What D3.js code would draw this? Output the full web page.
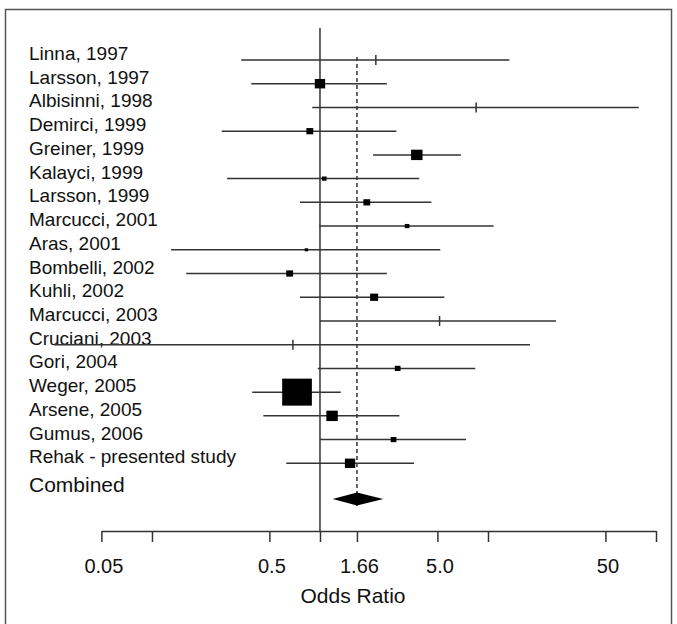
<!DOCTYPE html>
<html lang="en">
<head>
    <meta charset="UTF-8">
    <title>Forest plot - Odds Ratio</title>
    <script src="https://cdnjs.cloudflare.com/ajax/libs/d3/7.8.5/d3.min.js"></script>
    <style>
        * { margin: 0; padding: 0; box-sizing: border-box; }
        body { background: #fff; font-family: Arial, 'Liberation Sans', Helvetica, sans-serif; }
        svg text { fill: #111; }
    </style>
</head>
<body>
    <div id="chart"></div>
    <script>
        // Studies, top to bottom
        const studies = [
            "Linna, 1997", "Larsson, 1997", "Albisinni, 1998", "Demirci, 1999",
            "Greiner, 1999", "Kalayci, 1999", "Larsson, 1999", "Marcucci, 2001",
            "Aras, 2001", "Bombelli, 2002", "Kuhli, 2002", "Marcucci, 2003",
            "Cruciani, 2003", "Gori, 2004", "Weger, 2005", "Arsene, 2005",
            "Gumus, 2006", "Rehak - presented study"
        ];
        const oddsRatio = [2.15, 1.0, 8.5, 0.87, 3.77, 1.06, 1.9, 3.3, 0.83, 0.66, 2.1, 5.15, 0.69, 2.9, 0.73, 1.18, 2.74, 1.51];
        const lowerCI   = [0.34, 0.39, 0.9, 0.26, 2.07, 0.28, 0.76, 0.99, 0.13, 0.16, 0.76, 1.0, 0.026, 0.97, 0.395, 0.46, 1.0, 0.63];
        const upperCI   = [13.4, 2.5, 79, 2.85, 6.9, 3.9, 4.6, 10.8, 5.2, 2.5, 5.5, 25.4, 17.8, 8.4, 1.33, 2.97, 7.4, 3.63];
        // relative study weights (box area); 0 = drawn as a plain tick
        const weights   = [0, 7.5, 0, 3.3, 9.2, 1.5, 3.3, 1.5, 0.8, 3.3, 4.5, 0, 0, 2.3, 62, 9.2, 2.3, 7.5];

        const combinedLabel = "Combined";
        const combined = { or: 1.66, lo: 1.19, hi: 2.38 };

        const tickValues = [0.05, 0.1, 0.5, 1, 1.66, 5, 10, 50, 100];
        const tickLabels = ["0.05", "", "0.5", "", "1.66", "5.0", "", "50", ""];
        const axisTitle = "Odds Ratio";

        const width = 677, height = 624;
        const svg = d3.select('#chart').append('svg')
            .attr('width', width)
            .attr('height', height);

        // frame
        svg.append('rect')
            .attr('x', 5.5).attr('y', 9.5)
            .attr('width', 666).attr('height', 700)
            .attr('fill', '#fff')
            .attr('stroke', '#555')
            .attr('stroke-width', 1.5);

        const x = d3.scaleLog().domain([0.05, 100]).range([101.4, 656]);
        const y = d3.scaleLinear().domain([0, studies.length - 1]).range([60, 463.3]);
        const box = d3.scaleSqrt().domain([0, d3.max(weights)]).range([0, 27]);
        const axisY = 531;
        const combinedY = y(18.5);

        const lineColor = '#333';

        // line of no effect (OR = 1)
        svg.append('line')
            .attr('x1', x(1)).attr('x2', x(1))
            .attr('y1', 28).attr('y2', axisY)
            .attr('stroke', lineColor).attr('stroke-width', 1.5);

        // combined estimate, dashed
        svg.append('line')
            .attr('x1', x(combined.or)).attr('x2', x(combined.or))
            .attr('y1', 57).attr('y2', 506)
            .attr('stroke', lineColor).attr('stroke-width', 1.5)
            .attr('stroke-dasharray', '4,3');

        // study labels
        svg.selectAll('.study-label')
            .data(studies)
            .enter()
            .append('text')
            .attr('class', 'study-label')
            .attr('x', 29)
            .attr('y', (d, i) => y(i))
            .attr('font-size', 19)
            .text(d => d);

        // confidence intervals
        svg.selectAll('.ci')
            .data(studies)
            .enter()
            .append('line')
            .attr('class', 'ci')
            .attr('x1', (d, i) => x(lowerCI[i]))
            .attr('x2', (d, i) => x(upperCI[i]))
            .attr('y1', (d, i) => y(i))
            .attr('y2', (d, i) => y(i))
            .attr('stroke', lineColor)
            .attr('stroke-width', 1.5);

        // point estimates: boxes sized by weight
        svg.selectAll('.est')
            .data(studies.filter((d, i) => weights[i] > 0).map(d => studies.indexOf(d)))
            .enter()
            .append('rect')
            .attr('class', 'est')
            .attr('x', i => x(oddsRatio[i]) - box(weights[i]) * 0.55)
            .attr('y', i => y(i) - box(weights[i]) / 2)
            .attr('width', i => box(weights[i]) * 1.1)
            .attr('height', i => box(weights[i]))
            .attr('fill', '#000');

        // zero-weight studies: small vertical tick
        svg.selectAll('.est-tick')
            .data(studies.filter((d, i) => weights[i] === 0).map(d => studies.indexOf(d)))
            .enter()
            .append('line')
            .attr('class', 'est-tick')
            .attr('x1', i => x(oddsRatio[i]))
            .attr('x2', i => x(oddsRatio[i]))
            .attr('y1', i => y(i) - 5)
            .attr('y2', i => y(i) + 5)
            .attr('stroke', lineColor)
            .attr('stroke-width', 1.5);

        // combined
        svg.append('text')
            .attr('x', 29)
            .attr('y', combinedY - 7)
            .attr('font-size', 21)
            .text(combinedLabel);

        svg.append('path')
            .attr('d', `M${x(combined.lo)},${combinedY} L${x(combined.or)},${combinedY - 6.5} L${x(combined.hi)},${combinedY} L${x(combined.or)},${combinedY + 6.5} Z`)
            .attr('fill', '#000');

        // x axis
        const axis = d3.axisBottom(x)
            .tickValues(tickValues)
            .tickFormat((d, i) => tickLabels[i])
            .tickSize(11)
            .tickSizeOuter(0);

        const gx = svg.append('g')
            .attr('transform', `translate(0,${axisY})`)
            .call(axis);

        gx.select('.domain').attr('stroke', lineColor).attr('stroke-width', 1.5);
        gx.selectAll('.tick line').attr('stroke', lineColor).attr('stroke-width', 1.5);
        gx.selectAll('.tick text')
            .attr('y', 27.5)
            .attr('dx', 2)
            .attr('font-size', 20)
            .attr('font-family', 'Arial, Liberation Sans, sans-serif')
            .attr('fill', '#111');

        svg.append('text')
            .attr('x', 353)
            .attr('y', 603)
            .attr('text-anchor', 'middle')
            .attr('font-size', 21)
            .text(axisTitle);
    </script>
</body>
</html>
